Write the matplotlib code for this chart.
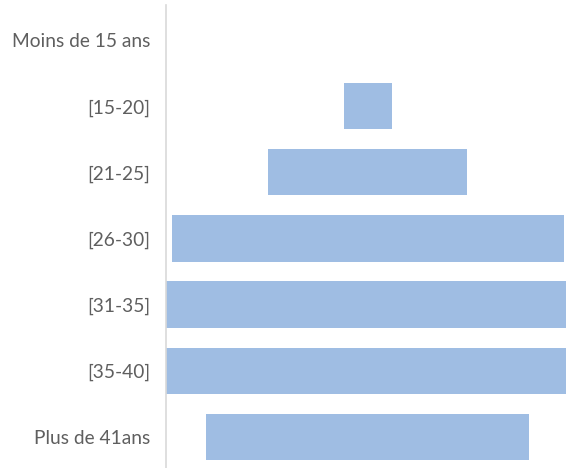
import matplotlib
matplotlib.use("Agg")
import matplotlib.pyplot as plt
import numpy as np

# Age groups and their sizes (bars centred on zero, pyramid style)
categories = ["Moins de 15 ans", "[15-20]", "[21-25]", "[26-30]",
              "[31-35]", "[35-40]", "Plus de 41ans"]
values = [0, 3, 12.4, 24.5, 30, 30, 20.2]

bar_color = "#9fbde3"
label_color = "#5f5f5f"

fig = plt.figure(figsize=(5.66, 4.68), dpi=100)
ax = fig.add_axes([166 / 566, 0, 1 - 166 / 566, 1 - 5 / 468])

y = np.arange(len(categories))
vals = np.array(values)
ax.barh(y, vals, left=-vals / 2, height=0.7, color=bar_color)

ax.set_xlim(-12.6, 12.4)
ax.set_ylim(6.47, -0.53)
ax.set_yticks(y)
ax.set_yticklabels(categories, fontsize=13.8, color=label_color, family="Lato")
ax.tick_params(axis="y", length=0, pad=11.5)
ax.set_xticks([])

for side in ["top", "right", "bottom"]:
    ax.spines[side].set_visible(False)
ax.spines["left"].set_color("#d9d9d9")
ax.spines["left"].set_linewidth(1.2)

fig.savefig("out.png", dpi=100)
